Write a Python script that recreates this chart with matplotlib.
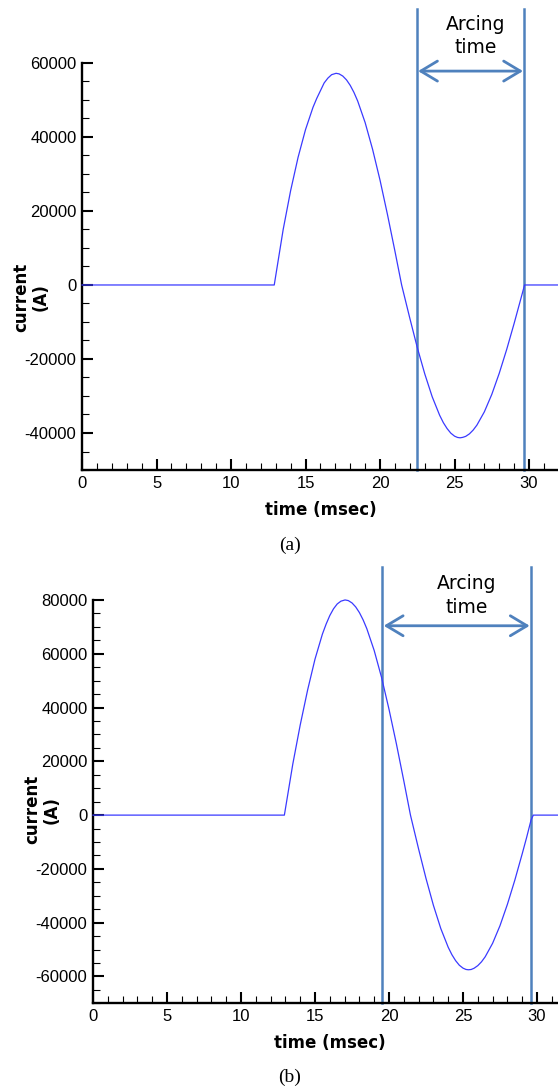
"""Fault current through the breaker with the arcing window marked, two cases (a) and (b)."""

import matplotlib
matplotlib.use("Agg")
import matplotlib.pyplot as plt
from matplotlib.ticker import MultipleLocator

OUT = "out.png"

# ---- data -----------------------------------------------------------------
# (a) time in msec, current in A
time_a = [0, 12.9, 13.5, 14.0, 14.5, 15.0, 15.5, 15.75, 16.0, 16.25,
          16.5, 16.75, 17.05, 17.25, 17.5, 17.75, 18.0, 18.25, 18.5, 19.0,
          19.5, 20.0, 20.5, 21.0, 21.45, 22.0, 22.5, 23.0, 23.5, 24.0,
          24.25, 24.5, 24.75, 25.0, 25.2, 25.37, 25.55, 25.75, 26.0, 26.25,
          26.5, 27.0, 27.5, 28.0, 28.5, 29.0, 29.5, 29.7, 32]
current_a = [0, 0, 15000, 25500, 34500, 42000, 48000, 50400, 52500, 54600,
             55900, 56830, 57200, 57050, 56460, 55420, 53940, 52030, 49710, 43890,
             36660, 28320, 19020, 9140, 0, -9000, -16900, -24000, -30200, -35200,
             -37210, -38800, -40040, -40850, -41200, -41300, -41180, -40910, -40230, -39210,
             -37880, -34290, -29570, -23870, -17430, -10380, -2990, 0, 0]
arc_a = [22.46, 29.69]  # contact separation, current interruption

# (b)
time_b = [0, 12.93, 13.5, 14.0, 14.5, 15.0, 15.5, 15.75, 16.0, 16.25,
          16.5, 16.75, 17.03, 17.25, 17.5, 17.75, 18.0, 18.25, 18.5, 19.0,
          19.5, 20.0, 20.5, 21.0, 21.45, 22.0, 22.5, 23.0, 23.5, 24.0,
          24.25, 24.5, 24.75, 25.0, 25.2, 25.36, 25.55, 25.75, 26.0, 26.25,
          26.5, 27.0, 27.5, 28.0, 28.5, 29.0, 29.3, 29.6, 29.75, 32]
current_b = [0, 0, 19000, 33500, 46500, 58000, 67300, 71000, 74200, 76700,
             78500, 79540, 80000, 79760, 78890, 77400, 75300, 72600, 69330, 61180,
             51110, 39350, 26490, 12740, 0, -12600, -23540, -33530, -42180, -49130,
             -51890, -54100, -55800, -56890, -57380, -57500, -57400, -56930, -55960, -54540,
             -52670, -47660, -41100, -33170, -24210, -14400, -8290, -1800, 0, 0]
arc_b = [19.55, 29.6]

yticks_a = [-40000, -20000, 0, 20000, 40000, 60000]
yticks_b = [-60000, -40000, -20000, 0, 20000, 40000, 60000, 80000]
xticks = [0, 5, 10, 15, 20, 25, 30]

CURVE = "#3a3aff"
MARK = "#4f81bd"


def style_axes(ax, yticks, ylim):
    ax.set_xlim(0, 32)
    ax.set_ylim(*ylim)
    ax.set_xticks(xticks)
    ax.set_yticks(yticks)
    ax.xaxis.set_minor_locator(MultipleLocator(1))
    ax.yaxis.set_minor_locator(MultipleLocator(5000))
    for side in ("top", "right"):
        ax.spines[side].set_visible(False)
    for side in ("left", "bottom"):
        ax.spines[side].set_linewidth(1.7)
    ax.tick_params(which="major", direction="in", length=8, width=1.5,
                   labelsize=12, pad=4)
    ax.tick_params(which="minor", direction="in", length=5, width=0.8)
    ax.patch.set_visible(False)


def draw_panel(fig, rect, t, cur, arc, yticks, ylim, line_top, arrow_y,
               text_x, text_y, label_y, caption, caption_y):
    ax = fig.add_axes(rect)
    style_axes(ax, yticks, ylim)
    ax.plot(t, cur, color=CURVE, lw=0.9, clip_on=False, zorder=3)

    # arcing window
    for x in arc:
        ax.axvline(x, ymin=0, ymax=line_top, color=MARK, lw=1.8,
                   clip_on=False, zorder=2)
    ax.annotate("", xy=(arc[0], arrow_y), xytext=(arc[1], arrow_y),
                xycoords=("data", "axes fraction"),
                textcoords=("data", "axes fraction"),
                arrowprops=dict(arrowstyle="<->,head_length=0.6,head_width=0.36",
                                color=MARK, lw=2.0, shrinkA=1, shrinkB=1,
                                mutation_scale=20))
    ax.text(text_x, text_y, "Arcing\ntime", transform=ax.get_xaxis_transform(),
            ha="center", va="center", fontsize=13.5, family="DejaVu Sans",
            linespacing=1.3)

    ax.set_xlabel("time (msec)", fontsize=12, fontweight="bold",
                  family="DejaVu Sans", va="center")
    ax.xaxis.set_label_coords(0.5, -0.098)
    ax.set_ylabel("current\n(A)", fontsize=12, fontweight="bold",
                  family="DejaVu Sans", va="center", linespacing=1.1)
    ax.yaxis.set_label_coords(-0.107, label_y)

    fig.text(0.5197, caption_y, caption, ha="center", va="center",
             fontsize=14, family="Liberation Serif")
    return ax


def main() -> None:
    plt.rcParams["font.family"] = ["Liberation Sans", "DejaVu Sans"]
    plt.rcParams["axes.unicode_minus"] = False
    fig = plt.figure(figsize=(5.58, 10.91), dpi=100)

    draw_panel(fig, [0.1470, 0.5692, 0.8545, 0.3731], time_a, current_a, arc_a,
               yticks_a, (-50000, 60000), line_top=1.133, arrow_y=0.980,
               text_x=26.4, text_y=1.066, label_y=0.425,
               caption="(a)", caption_y=0.5005)
    draw_panel(fig, [0.1667, 0.0803, 0.8487, 0.3698], time_b, current_b, arc_b,
               yticks_b, (-70000, 80000), line_top=1.082, arrow_y=0.936,
               text_x=25.27, text_y=1.011, label_y=0.48,
               caption="(b)", caption_y=0.0128)

    fig.savefig(OUT, dpi=100)


if __name__ == "__main__":
    main()
